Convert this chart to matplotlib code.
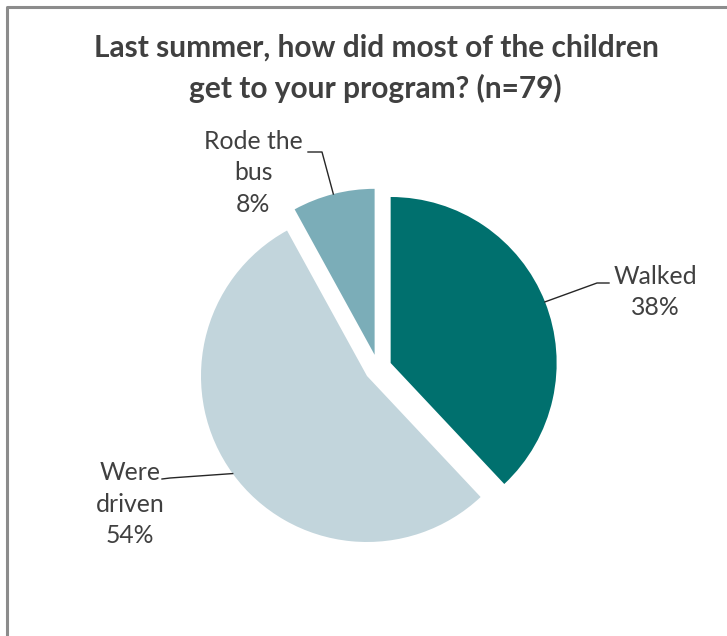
import numpy as np
import matplotlib.pyplot as plt

plt.rcParams['font.family'] = ['Lato', 'DejaVu Sans']

labels = ['Walked', 'Were\ndriven', 'Rode the\nbus']
values = [38, 54, 8]
colors = ['#00706e', '#c2d5dc', '#7badb8']

W, H = 727, 636
fig = plt.figure(figsize=(W / 100, H / 100), dpi=100)
ax = fig.add_axes([0, 0, 1, 1])
ax.set_xlim(0, W)
ax.set_ylim(0, H)
ax.set_aspect('equal')
ax.axis('off')

# frame (only top and left edges show in the original)
ax.plot([6.5, 6.5, W], [0, H - 6.5, H - 6.5], color='#8c8c8c', lw=2.2, solid_capstyle='butt')

cx, cy, r = 378, H - 368, 166
# explode is in data units here (pie radius is in pixels)
wedges, _ = ax.pie(values, colors=colors, startangle=90, counterclock=False,
                   explode=[13.6] * 3, radius=r, center=(cx, cy),
                   wedgeprops=dict(linewidth=0))
ax.set_xlim(0, W)
ax.set_ylim(0, H)

ax.text(376, H - 48, 'Last summer, how did most of the children', ha='center', va='center',
        fontsize=21.5, fontweight='bold', color='#404040')
ax.text(375, H - 88, 'get to your program? (n=79)', ha='center', va='center',
        fontsize=21.5, fontweight='bold', color='#404040')

# label text position, elbow points (image pixel coords)
label_pos = [(655, 292), (130, 504), (253, 173)]
elbows = [((597, 283), (609, 283)), ((170, 478), (162, 479)), ((322, 152), (308, 152))]

for w, lab, v, (tx, ty), (e1, e2) in zip(wedges, labels, values, label_pos, elbows):
    mid = np.deg2rad((w.theta1 + w.theta2) / 2)
    ax0 = w.center[0] + w.r * np.cos(mid)
    ay0 = w.center[1] + w.r * np.sin(mid)
    ax.plot([ax0, e1[0], e2[0]], [ay0, H - e1[1], H - e2[1]], color='#262626', lw=1.0)
    ax.text(tx, H - ty, f'{lab}\n{v}%', ha='center', va='center', fontsize=17.8,
            color='#404040', linespacing=1.45)

fig.savefig('out.png', dpi=100)
